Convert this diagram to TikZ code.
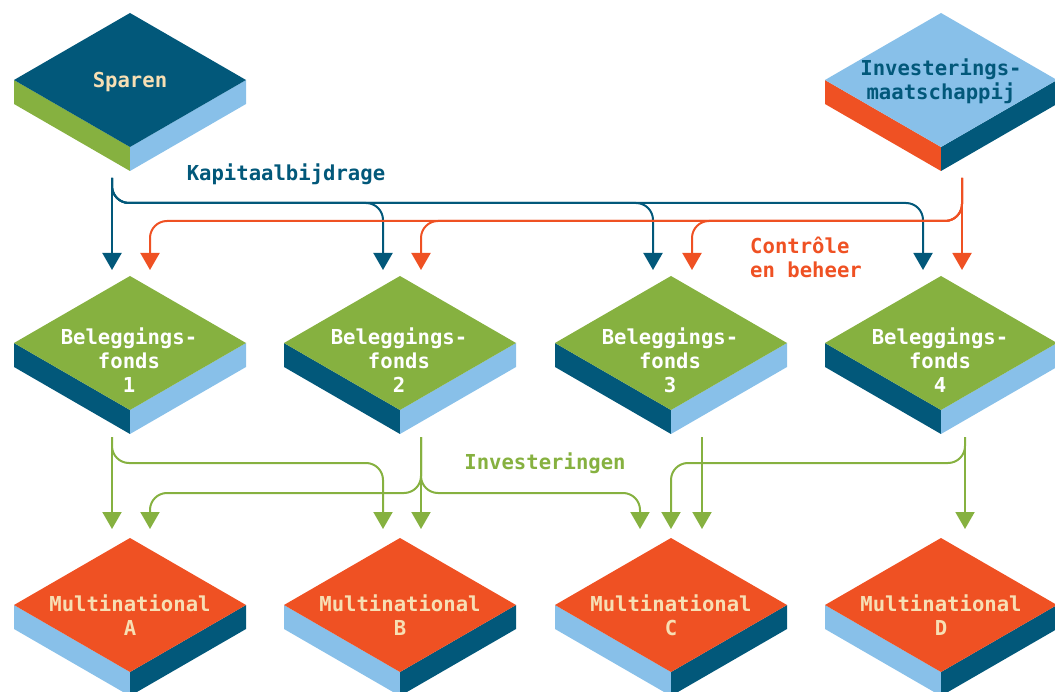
\documentclass[tikz,border=0pt]{standalone}
\usepackage{fontspec}
\setmonofont{DejaVu Sans Mono}
\usetikzlibrary{arrows.meta,calc}
\definecolor{dblue}{HTML}{02587A}
\definecolor{lblue}{HTML}{88C0E9}
\definecolor{cgreen}{HTML}{86B140}
\definecolor{corange}{HTML}{EF5123}
\definecolor{cream}{HTML}{F7DFB4}
\newcommand\isoblk[6]{%
  \coordinate (#1) at (#2,#3);
  \fill[#5] ($(#1)+(-116,0)$) -- ($(#1)+(0,67)$) -- ($(#1)+(0,91)$) -- ($(#1)+(-116,24)$) -- cycle;
  \fill[#6] ($(#1)+(116,0)$) -- ($(#1)+(0,67)$) -- ($(#1)+(0,91)$) -- ($(#1)+(116,24)$) -- cycle;
  \fill[#4] ($(#1)+(0,-67)$) -- ($(#1)+(116,0)$) -- ($(#1)+(0,67)$) -- ($(#1)+(-116,0)$) -- cycle;
}
\tikzset{
  lbl/.style={font=\ttfamily\bfseries\fontsize{20.6}{24}\selectfont, align=center, inner sep=0pt},
  flow/.style={line width=2pt, rounded corners=17pt, -{Triangle[width=19pt,length=17pt]}},
}
\begin{document}
\begin{tikzpicture}[x=1pt,y=-1pt]
\useasboundingbox (0,0) rectangle (1055,692);
\begin{scope}
\clip (0,0) rectangle (1055,692);
% blocks
\isoblk{sparen}{130}{80}{dblue}{cgreen}{lblue}
\isoblk{invest}{941}{80}{lblue}{corange}{dblue}
\isoblk{f1}{130}{343}{cgreen}{dblue}{lblue}
\isoblk{f2}{400}{343}{cgreen}{dblue}{lblue}
\isoblk{f3}{671}{343}{cgreen}{dblue}{lblue}
\isoblk{f4}{941}{343}{cgreen}{dblue}{lblue}
\isoblk{ma}{130}{605}{corange}{lblue}{dblue}
\isoblk{mb}{400}{605}{corange}{lblue}{dblue}
\isoblk{mc}{671}{605}{corange}{lblue}{dblue}
\isoblk{md}{941}{605}{corange}{lblue}{dblue}
\end{scope}
% texts
\node[lbl, text=cream] (sparen-t) at (130,82) {Sparen};
\node[lbl, text=dblue] (invest-t) at (941,81.5) {Investerings-\\maatschappij};
\node[lbl, text=white] (f1-t) at (129,360) {Beleggings-\\fonds\\1};
\node[lbl, text=white] (f2-t) at (399,360) {Beleggings-\\fonds\\2};
\node[lbl, text=white] (f3-t) at (670,360) {Beleggings-\\fonds\\3};
\node[lbl, text=white] (f4-t) at (940,360) {Beleggings-\\fonds\\4};
\node[lbl, text=cream] (ma-t) at (130,615) {Multinational\\A};
\node[lbl, text=cream] (mb-t) at (400,615) {Multinational\\B};
\node[lbl, text=cream] (mc-t) at (671,615) {Multinational\\C};
\node[lbl, text=cream] (md-t) at (941,615) {Multinational\\D};
\node[lbl, text=dblue] (kap) at (286,174) {Kapitaalbijdrage};
\node[lbl, text=corange, align=left, anchor=west] (ctrl) at (750,257.5) {Contrôle\\en beheer};
\node[lbl, text=cgreen] (inv) at (545,463) {Investeringen};
% ports
\coordinate (s-out) at (112,178);
\coordinate (i-out) at (962,178);
\coordinate (blueY) at (0,203);
\coordinate (orY) at (0,221);
\coordinate (f1-inB) at (112,270);
\coordinate (f2-inB) at (383,270);
\coordinate (f3-inB) at (653,270);
\coordinate (f4-inB) at (923,270);
\coordinate (f1-inO) at (150,270);
\coordinate (f2-inO) at (421,270);
\coordinate (f3-inO) at (692,270);
\coordinate (f4-inO) at (962,270);
\coordinate (f1-out) at (112,437);
\coordinate (f2-out) at (421,437);
\coordinate (f3-out) at (702,437);
\coordinate (f4-out) at (965,437);
\coordinate (gY1) at (0,463);
\coordinate (gY2) at (0,493);
\coordinate (a-in1) at (112,529);
\coordinate (a-in2) at (150,529);
\coordinate (b-in1) at (383,529);
\coordinate (b-in2) at (421,529);
\coordinate (c-in1) at (640,529);
\coordinate (c-in2) at (671,529);
\coordinate (c-in3) at (702,529);
\coordinate (d-in) at (965,529);
% Kapitaalbijdrage
\draw[flow, dblue] (s-out) -- (f1-inB);
\draw[flow, dblue] (s-out) |- (f2-inB |- blueY) -- (f2-inB);
\draw[flow, dblue] (s-out) |- (f3-inB |- blueY) -- (f3-inB);
\draw[flow, dblue] (s-out) |- (f4-inB |- blueY) -- (f4-inB);
% Controle en beheer
\draw[flow, corange] (i-out) -- (f4-inO);
\draw[flow, corange] (i-out) |- (f3-inO |- orY) -- (f3-inO);
\draw[flow, corange] (i-out) |- (f2-inO |- orY) -- (f2-inO);
\draw[flow, corange] (i-out) |- (f1-inO |- orY) -- (f1-inO);
% Investeringen
\draw[flow, cgreen] (f1-out) -- (a-in1);
\draw[flow, cgreen] (f1-out) |- (b-in1 |- gY1) -- (b-in1);
\draw[flow, cgreen] (f2-out) -- (b-in2);
\draw[flow, cgreen] (f2-out) |- (a-in2 |- gY2) -- (a-in2);
\draw[flow, cgreen] (f2-out) |- (c-in1 |- gY2) -- (c-in1);
\draw[flow, cgreen] (f3-out) -- (c-in3);
\draw[flow, cgreen] (f4-out) -- (d-in);
\draw[flow, cgreen] (f4-out) |- (c-in2 |- gY1) -- (c-in2);
\end{tikzpicture}
\end{document}
